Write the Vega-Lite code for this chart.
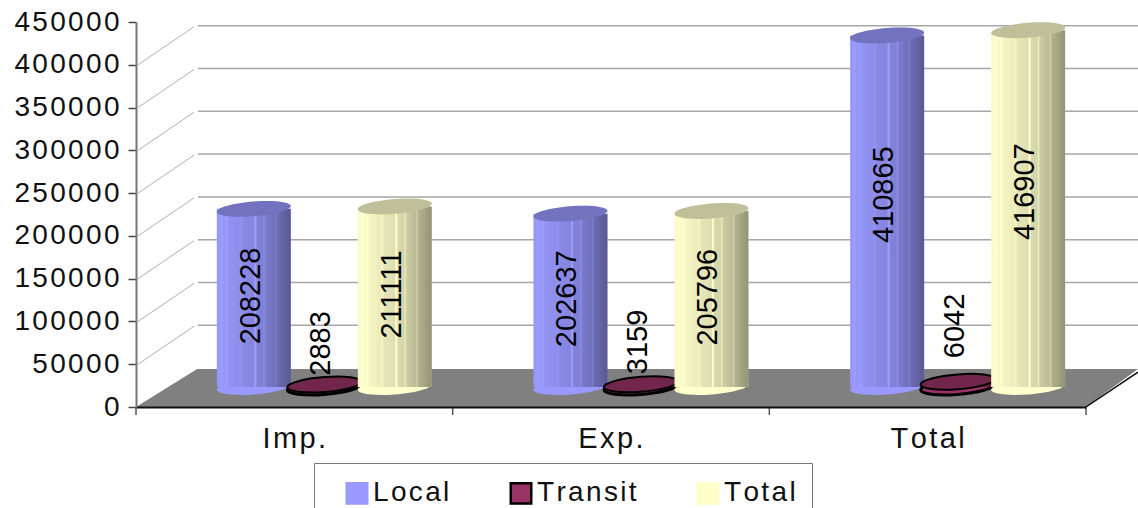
{
"$schema":"https://vega.github.io/schema/vega-lite/v6.json",
"width":950,"height":385,"autosize":{"type":"none"},
"padding":{"left":136,"top":22,"right":52,"bottom":101},
"background":"white",
"config":{"view":{"stroke":null},"font":"Liberation Sans"},
"datasets":{
"rows":[
{"cat":"Imp.","series":"Local","value":208228},
{"cat":"Imp.","series":"Transit","value":2883},
{"cat":"Imp.","series":"Total","value":211111},
{"cat":"Exp.","series":"Local","value":202637},
{"cat":"Exp.","series":"Transit","value":3159},
{"cat":"Exp.","series":"Total","value":205796},
{"cat":"Total","series":"Local","value":410865},
{"cat":"Total","series":"Transit","value":6042},
{"cat":"Total","series":"Total","value":416907}],
"levels":[{"level":50000},{"level":100000},{"level":150000},{"level":200000},{"level":250000},{"level":300000},{"level":350000},{"level":400000}],
"floor":[{"depth":0,"left":0,"right":3},{"depth":44400,"left":0.193,"right":3.164}],
"bounds":[{"at":0},{"at":1},{"at":2},{"at":3}]
},
"resolve":{"scale":{"x":"independent","xOffset":"independent"},"axis":{"y":"independent"},"legend":{"color":"independent","stroke":"independent"}},
"layer":[
{"data":{"name":"floor"},"mark":{"type":"area","orient":"horizontal","fill":"#808080"},
 "encoding":{"y":{"field":"depth","type":"quantitative","scale":{"domain":[0,450000],"nice":false},
   "axis":{"title":null,"grid":false,"orient":"left","values":[0,50000,100000,150000,200000,250000,300000,350000,400000,450000],"format":"d","tickSize":8,"tickColor":"#444444","tickWidth":1.5,"domainColor":"#777777","domainWidth":2,"labelFontSize":28,"labelColor":"#111111","labelPadding":9,"zindex":1,"labelExpr":"replace(datum.label, /(.)(?=.)/g, '$1\u200a')"}},
 "x":{"field":"left","type":"quantitative","scale":{"domain":[0,3],"nice":false},"axis":null},"x2":{"field":"right"}}},
{"data":{"name":"levels"},"mark":{"type":"rule","stroke":"#a6a6a6","strokeWidth":1.5,"xOffset":62,"x2Offset":52,"yOffset":-39},
 "encoding":{"y":{"field":"level","type":"quantitative","axis":null},
 "x":{"datum":0,"type":"quantitative","scale":{"domain":[0,3],"nice":false},"axis":null},"x2":{"datum":3}}},
{"data":{"name":"levels"},"mark":{"type":"rule","stroke":"#b0b0b0","strokeWidth":1,"xOffset":2,"x2Offset":58,"y2Offset":-38},
 "encoding":{"y":{"field":"level","type":"quantitative","axis":null},"y2":{"field":"level"},
 "x":{"datum":0,"type":"quantitative","scale":{"domain":[0,3],"nice":false},"axis":null},"x2":{"datum":0}}},
{"data":{"values":[{"level":0}]},"mark":{"type":"rule","stroke":"black","strokeWidth":1.5,"x2Offset":52,"y2Offset":-35},
 "encoding":{"y":{"field":"level","type":"quantitative","axis":null},"y2":{"field":"level"},
 "x":{"datum":3,"type":"quantitative","scale":{"domain":[0,3],"nice":false},"axis":null},"x2":{"datum":3}}},
{"data":{"name":"bounds"},"mark":{"type":"rule","stroke":"#555555","strokeWidth":1.5,"y2Offset":8},
 "encoding":{"y":{"datum":0,"type":"quantitative","axis":null},"y2":{"datum":0},
 "x":{"field":"at","type":"quantitative","scale":{"domain":[0,3],"nice":false},"axis":null}}},
{"data":{"name":"rows"},"transform":[{"filter":"datum.series !== 'Total'"}],
 "encoding":{
  "x":{"field":"cat","type":"nominal","sort":["Imp.","Exp.","Total"],"scale":{"type":"band","domain":["Imp.","Exp.","Total"],"paddingInner":0.332,"paddingOuter":0.166},
   "axis":{"title":null,"labelAngle":0,"ticks":false,"domainColor":"#111111","domainWidth":2,"labelFontSize":29,"labelColor":"#111111","labelPadding":17,"zindex":1,"labelExpr":"replace(datum.label, /(.)(?=.)/g, '$1\u200a')"}},
  "xOffset":{"field":"series","type":"nominal","scale":{"type":"band","domain":["Local","Transit","Total"],"range":[30,241.5],"paddingInner":0,"paddingOuter":0}},
  "y":{"field":"value","type":"quantitative","axis":null}
 },
 "layer":[
  {"mark":{"type":"point","filled":true,"opacity":1,"size":5476,"yOffset":-20,"shape":"M-1 0.075 A1 0.2 -4.5 1 1 1 -0.075 A1 0.2 -4.5 1 1 -1 0.075 Z"},
   "encoding":{"y":{"datum":0,"type":"quantitative","axis":null},
    "color":{"field":"series","type":"nominal","legend":null},
    "stroke":{"field":"series","type":"nominal","legend":null},
    "strokeWidth":{"condition":{"test":"datum.series === 'Transit'","value":3},"value":0}}},
  {"mark":{"type":"bar","width":74,"yOffset":-20,"y2Offset":-20,"strokeWidth":0},
   "encoding":{"y2":{"datum":0},"color":{"field":"series","type":"nominal","legend":null}}},
  {"mark":{"type":"bar","width":74,"yOffset":-20,"y2Offset":-20,"fill":{"gradient":"linear","x1":0,"x2":1,"y1":0,"y2":0,"stops":[
    {"offset":0,"color":"rgba(0,0,0,0.02)"},{"offset":0.06,"color":"rgba(255,255,255,0.03)"},{"offset":0.1,"color":"rgba(0,0,0,0.02)"},{"offset":0.13,"color":"rgba(255,255,255,0.06)"},{"offset":0.16,"color":"rgba(0,0,0,0.04)"},{"offset":0.3,"color":"rgba(0,0,0,0.08)"},{"offset":0.33,"color":"rgba(0,0,0,0.04)"},{"offset":0.36,"color":"rgba(0,0,0,0.1)"},{"offset":0.5,"color":"rgba(0,0,0,0.13)"},{"offset":0.52,"color":"rgba(255,255,255,0.02)"},{"offset":0.54,"color":"rgba(0,0,0,0.15)"},{"offset":0.62,"color":"rgba(0,0,0,0.17)"},{"offset":0.64,"color":"rgba(0,0,0,0.08)"},{"offset":0.66,"color":"rgba(0,0,0,0.2)"},{"offset":0.78,"color":"rgba(0,0,0,0.27)"},{"offset":0.8,"color":"rgba(0,0,0,0.18)"},{"offset":0.82,"color":"rgba(0,0,0,0.3)"},{"offset":1,"color":"rgba(0,0,0,0.42)"}]}},
   "encoding":{"y2":{"datum":0}}},
  {"mark":{"type":"point","filled":true,"opacity":1,"size":5476,"yOffset":-20,"shape":"M-1 0.075 A1 0.2 -4.5 1 1 1 -0.075 A1 0.2 -4.5 1 1 -1 0.075 Z"},
   "encoding":{"color":{"field":"series","type":"nominal","legend":null},"stroke":{"field":"series","type":"nominal","legend":null},
    "strokeWidth":{"condition":{"test":"datum.series === 'Transit'","value":2},"value":0}}},
  {"mark":{"type":"point","filled":true,"size":5476,"fill":"black","opacity":0.25,"strokeWidth":0,"yOffset":-20,"shape":"M-1 0.075 A1 0.2 -4.5 1 1 1 -0.075 A1 0.2 -4.5 1 1 -1 0.075 Z"}}
 ]},
{"data":{"name":"rows"},"transform":[{"filter":"datum.series === 'Total'"}],
 "encoding":{
  "x":{"field":"cat","type":"nominal","sort":["Imp.","Exp.","Total"],"scale":{"type":"band","domain":["Imp.","Exp.","Total"],"paddingInner":0.332,"paddingOuter":0.166},"axis":null},
  "xOffset":{"field":"series","type":"nominal","scale":{"type":"band","domain":["Local","Transit","Total"],"range":[30,241.5],"paddingInner":0,"paddingOuter":0}},
  "y":{"field":"value","type":"quantitative","axis":null}
 },
 "layer":[
  {"mark":{"type":"point","filled":true,"opacity":1,"size":5476,"strokeWidth":0,"yOffset":-20,"shape":"M-1 0.075 A1 0.2 -4.5 1 1 1 -0.075 A1 0.2 -4.5 1 1 -1 0.075 Z"},
   "encoding":{"y":{"datum":0,"type":"quantitative","axis":null},"color":{"field":"series","type":"nominal","legend":null}}},
  {"mark":{"type":"bar","width":74,"yOffset":-20,"y2Offset":-20,"strokeWidth":0},
   "encoding":{"y2":{"datum":0},"color":{"field":"series","type":"nominal","legend":null}}},
  {"mark":{"type":"bar","width":74,"yOffset":-20,"y2Offset":-20,"fill":{"gradient":"linear","x1":0,"x2":1,"y1":0,"y2":0,"stops":[
    {"offset":0,"color":"rgba(0,0,0,0.02)"},{"offset":0.06,"color":"rgba(255,255,255,0.03)"},{"offset":0.1,"color":"rgba(0,0,0,0.02)"},{"offset":0.13,"color":"rgba(255,255,255,0.06)"},{"offset":0.16,"color":"rgba(0,0,0,0.04)"},{"offset":0.3,"color":"rgba(0,0,0,0.08)"},{"offset":0.33,"color":"rgba(0,0,0,0.04)"},{"offset":0.36,"color":"rgba(0,0,0,0.1)"},{"offset":0.5,"color":"rgba(0,0,0,0.13)"},{"offset":0.52,"color":"rgba(255,255,255,0.02)"},{"offset":0.54,"color":"rgba(0,0,0,0.15)"},{"offset":0.62,"color":"rgba(0,0,0,0.17)"},{"offset":0.64,"color":"rgba(0,0,0,0.08)"},{"offset":0.66,"color":"rgba(0,0,0,0.2)"},{"offset":0.78,"color":"rgba(0,0,0,0.27)"},{"offset":0.8,"color":"rgba(0,0,0,0.18)"},{"offset":0.82,"color":"rgba(0,0,0,0.3)"},{"offset":1,"color":"rgba(0,0,0,0.42)"}]}},
   "encoding":{"y2":{"datum":0}}},
  {"mark":{"type":"point","filled":true,"opacity":1,"size":5476,"strokeWidth":0,"yOffset":-20,"shape":"M-1 0.075 A1 0.2 -4.5 1 1 1 -0.075 A1 0.2 -4.5 1 1 -1 0.075 Z"},
   "encoding":{"color":{"field":"series","type":"nominal","legend":null}}},
  {"mark":{"type":"point","filled":true,"size":5476,"fill":"black","opacity":0.25,"strokeWidth":0,"yOffset":-20,"shape":"M-1 0.075 A1 0.2 -4.5 1 1 1 -0.075 A1 0.2 -4.5 1 1 -1 0.075 Z"}}
 ]},
{"data":{"name":"rows"},
 "transform":[{"calculate":"datum.value < 10000 ? datum.value * 6.5 + 55500 : datum.value * 0.584 + 8200","as":"labelAt"}],
 "mark":{"type":"text","angle":270,"align":"center","baseline":"middle","fontSize":29,"dy":-3,"color":"black"},
 "encoding":{
  "x":{"field":"cat","type":"nominal","sort":["Imp.","Exp.","Total"],"scale":{"type":"band","domain":["Imp.","Exp.","Total"],"paddingInner":0.332,"paddingOuter":0.166},"axis":null},
  "xOffset":{"field":"series","type":"nominal","scale":{"type":"band","domain":["Local","Transit","Total"],"range":[30,241.5],"paddingInner":0,"paddingOuter":0}},
  "y":{"field":"labelAt","type":"quantitative","axis":null},
  "text":{"field":"value","type":"nominal"}
 }},
{"data":{"name":"rows"},"mark":{"type":"bar","opacity":0,"width":1},
 "encoding":{
  "x":{"field":"cat","type":"nominal","scale":{"type":"band","domain":["Imp.","Exp.","Total"]},"axis":null},
  "y":{"datum":0,"type":"quantitative","axis":null},"y2":{"datum":0},
  "color":{"field":"series","type":"nominal","scale":{"domain":["Local","Transit","Total"],"range":["#9999ff","#993366","#ffffcc"]},
     "legend":{"title":null,"orient":"none","legendX":178,"legendY":441,"direction":"horizontal","columns":3,"columnPadding":44,"padding":16,"strokeColor":"#777777","fillColor":"white","symbolType":"square","symbolSize":420,"symbolOffset":13,"symbolStrokeWidth":2.5,"symbolOpacity":1,"labelFontSize":28,"labelColor":"#111111","labelOffset":2,"labelExpr":"replace(datum.label, /(.)(?=.)/g, '$1\u200a')"}},
  "stroke":{"field":"series","type":"nominal","scale":{"domain":["Local","Transit","Total"],"range":["#9999ff","#000000","#ffffcc"]},
     "legend":{"title":null,"orient":"none","legendX":178,"legendY":441,"direction":"horizontal","columns":3,"columnPadding":44,"padding":16,"strokeColor":"#777777","fillColor":"white","symbolType":"square","symbolSize":420,"symbolOffset":13,"symbolStrokeWidth":2.5,"symbolOpacity":1,"labelFontSize":28,"labelColor":"#111111","labelOffset":2,"labelExpr":"replace(datum.label, /(.)(?=.)/g, '$1\u200a')"}}
 }}
]
}
